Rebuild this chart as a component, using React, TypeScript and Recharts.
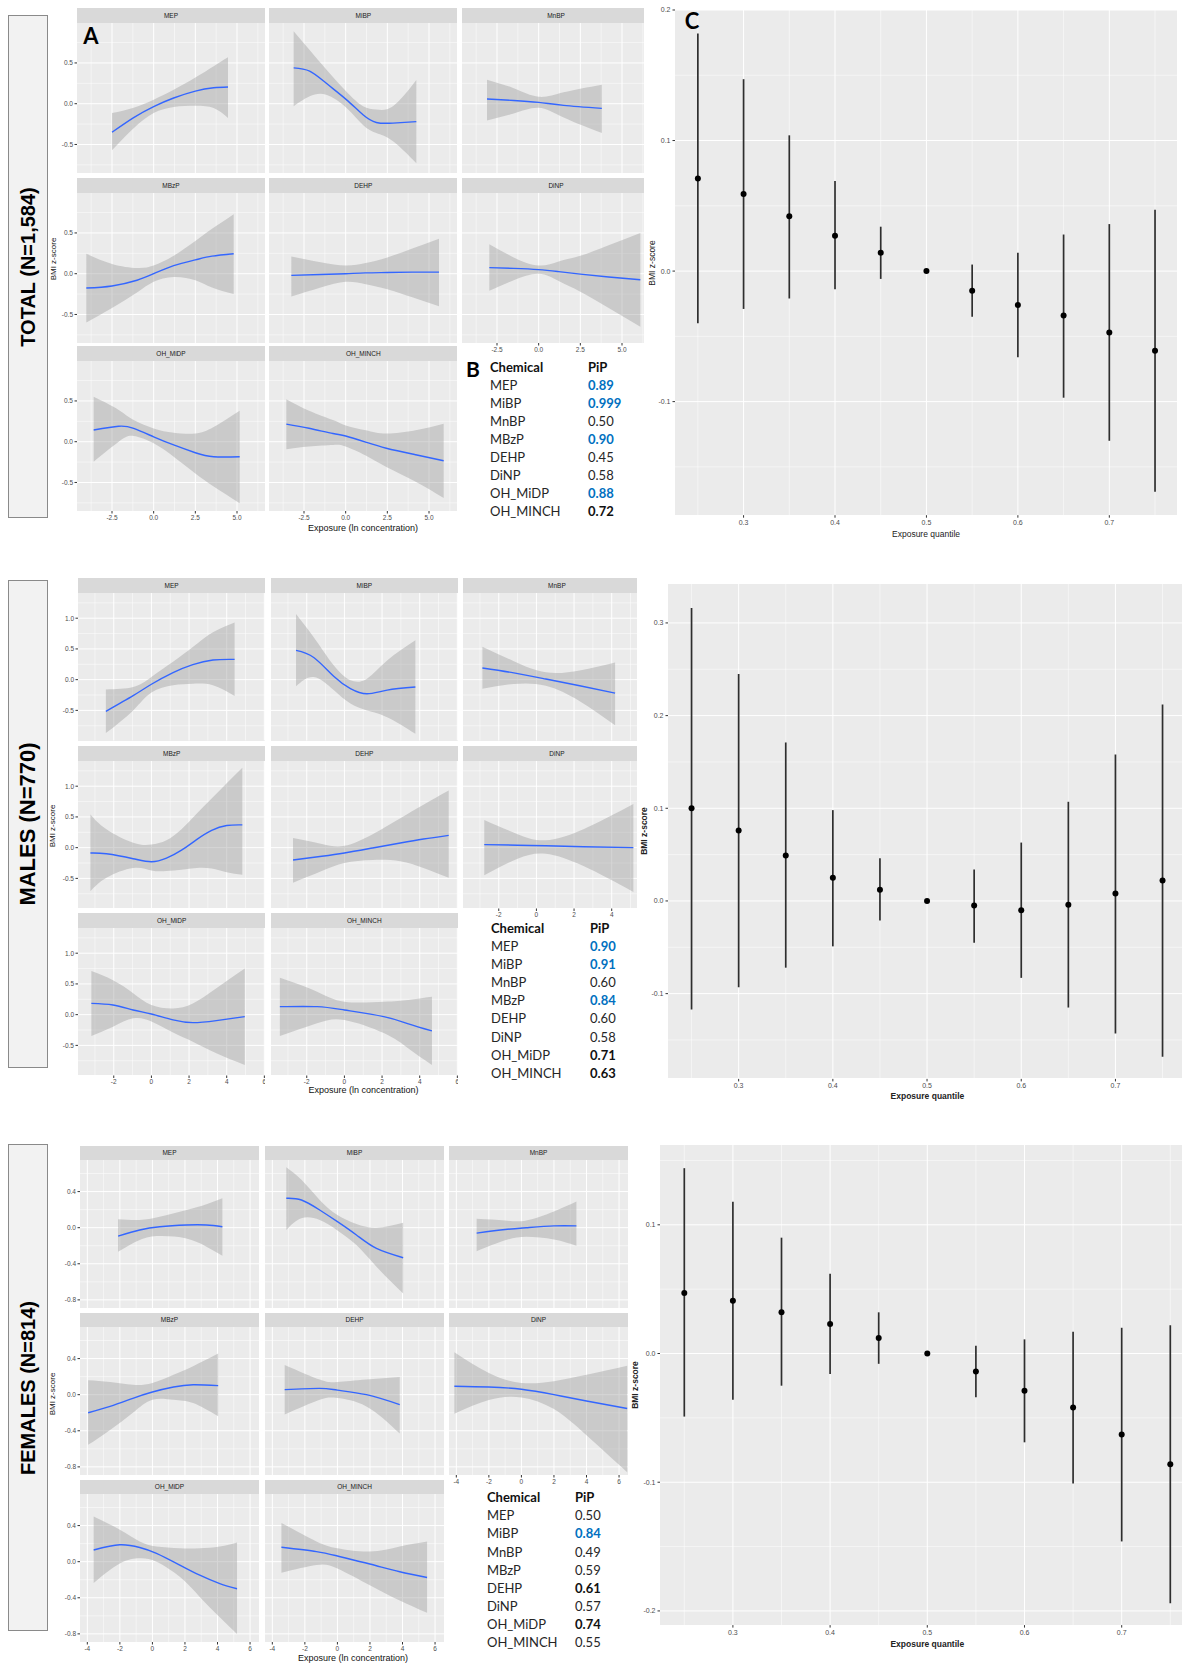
import React from 'react';
import {
  ComposedChart,
  Area,
  Line,
  Scatter,
  ErrorBar,
  XAxis,
  YAxis,
  CartesianGrid,
} from 'recharts';

const SANS = '"Liberation Sans", Arial, sans-serif';
const TABLE_FONT = 'Lato, "Open Sans", sans-serif';

const CHEMICALS = ['MEP', 'MiBP', 'MnBP', 'MBzP', 'DEHP', 'DiNP', 'OH_MiDP', 'OH_MINCH'];

// smooth fits per chemical: [exposure, lower, fit, upper]
const TOTAL_MEP = [[-2.5, -0.57, -0.35, -0.115], [-1.2, -0.3, -0.17, -0.05], [0, -0.115, -0.035, 0.05], [1.2, -0.04, 0.07, 0.17], [2.5, -0.025, 0.155, 0.32], [3.6, -0.053, 0.195, 0.46], [4.46, -0.176, 0.205, 0.57]];
const TOTAL_MIBP = [[-3.12, -0.03, 0.44, 0.89], [-2.16, 0.09, 0.4, 0.66], [-1.16, 0.11, 0.25, 0.42], [0.04, -0.05, 0.05, 0.15], [1.04, -0.26, -0.135, -0.03], [1.84, -0.36, -0.23, -0.07], [2.84, -0.46, -0.238, -0.03], [4.24, -0.73, -0.22, 0.29]];
const TOTAL_MNBP = [[-3.1, -0.205, 0.057, 0.295], [-1.5, -0.12, 0.04, 0.19], [0, -0.05, 0.016, 0.085], [1.5, -0.17, -0.02, 0.14], [3.79, -0.36, -0.057, 0.234]];
const TOTAL_MBZP = [[-4.04, -0.6, -0.175, 0.244], [-2.5, -0.42, -0.15, 0.12], [-1, -0.23, -0.08, 0.07], [0, -0.1, 0, 0.1], [1.2, -0.04, 0.1, 0.22], [2.5, -0.08, 0.17, 0.4], [3.5, -0.17, 0.215, 0.55], [4.8, -0.25, 0.245, 0.73]];
const TOTAL_DEHP = [[-3.26, -0.28, -0.02, 0.21], [-1.5, -0.17, -0.01, 0.14], [0, -0.1, 0, 0.1], [1.2, -0.13, 0.01, 0.13], [2.5, -0.19, 0.015, 0.2], [4, -0.29, 0.02, 0.31], [5.6, -0.4, 0.02, 0.43]];
const TOTAL_DINP = [[-2.96, -0.21, 0.074, 0.36], [-1.5, -0.08, 0.065, 0.2], [0, 0, 0.05, 0.1], [1.2, -0.09, 0.025, 0.15], [2.5, -0.22, -0.005, 0.22], [4.2, -0.42, -0.04, 0.35], [6.1, -0.65, -0.074, 0.5]];
const TOTAL_OHMIDP = [[-3.6, -0.245, 0.143, 0.55], [-2.1, 0, 0.19, 0.39], [-1.2, 0.07, 0.163, 0.265], [0, -0.02, 0.06, 0.163], [1.2, -0.184, -0.04, 0.11], [2.5, -0.39, -0.135, 0.1], [3.6, -0.55, -0.184, 0.18], [5.16, -0.755, -0.184, 0.38]];
const TOTAL_OHMINCH = [[-3.56, -0.094, 0.216, 0.52], [-2.2, -0.06, 0.165, 0.38], [-0.76, -0.04, 0.1, 0.265], [0, -0.06, 0.07, 0.2], [1.2, -0.17, -0.005, 0.14], [2.44, -0.31, -0.08, 0.1], [4.2, -0.49, -0.16, 0.14], [5.88, -0.69, -0.233, 0.22]];

const MALES_MEP = [[-2.42, -0.87, -0.515, -0.16], [-0.97, -0.5, -0.26, -0.12], [0, -0.21, -0.075, 0.043], [1.15, -0.09, 0.115, 0.29], [2.2, -0.065, 0.245, 0.53], [3.27, -0.09, 0.32, 0.77], [4.42, -0.265, 0.33, 0.93]];
const MALES_MIBP = [[-2.57, -0.108, 0.476, 1.07], [-1.63, 0.043, 0.36, 0.69], [-0.57, -0.17, 0.054, 0.233], [0.32, -0.39, -0.146, -0.01], [1.2, -0.5, -0.23, 0.016], [2.27, -0.61, -0.17, 0.31], [3.77, -0.88, -0.12, 0.64]];
const MALES_MNBP = [[-2.87, -0.15, 0.19, 0.535], [-1.2, -0.07, 0.11, 0.3], [0.5, -0.1, 0.01, 0.12], [2.3, -0.35, -0.1, 0.15], [4.18, -0.74, -0.22, 0.28]];
const MALES_MBZP = [[-3.24, -0.71, -0.087, 0.54], [-2.39, -0.49, -0.1, 0.3], [-0.97, -0.33, -0.18, 0.08], [0, -0.37, -0.23, 0.05], [0.8, -0.38, -0.17, 0.12], [1.6, -0.36, -0.04, 0.3], [2.4, -0.33, 0.13, 0.55], [3.2, -0.34, 0.28, 0.8], [4, -0.4, 0.36, 1.05], [4.83, -0.44, 0.37, 1.3]];
const MALES_DEHP = [[-2.73, -0.57, -0.2, 0.157], [-1.2, -0.38, -0.14, 0.06], [0, -0.25, -0.087, 0.03], [1.5, -0.2, -0.005, 0.22], [2.97, -0.22, 0.076, 0.48], [4.2, -0.33, 0.14, 0.7], [5.54, -0.49, 0.2, 0.93]];
const MALES_DINP = [[-2.77, -0.45, 0.05, 0.45], [-1, -0.18, 0.04, 0.22], [0.5, -0.1, 0.03, 0.12], [2.5, -0.3, 0.015, 0.3], [5.15, -0.72, 0, 0.71]];
const MALES_OHMIDP = [[-3.19, -0.346, 0.184, 0.71], [-2.04, -0.195, 0.157, 0.56], [-0.97, -0.06, 0.076, 0.35], [0, -0.11, 0.01, 0.157], [1.15, -0.29, -0.086, 0.1], [2.2, -0.44, -0.13, 0.18], [3.45, -0.63, -0.097, 0.43], [4.96, -0.82, -0.032, 0.75]];
const MALES_OHMINCH = [[-3.43, -0.346, 0.13, 0.6], [-1.45, -0.14, 0.13, 0.373], [0, -0.086, 0.076, 0.21], [2.09, -0.3, -0.032, 0.21], [3.4, -0.55, -0.15, 0.24], [4.65, -0.82, -0.265, 0.29]];

const FEMALES_MEP = [[-2.11, -0.267, -0.093, 0.093], [-0.78, -0.137, -0.026, 0.085], [0.45, -0.093, 0.011, 0.12], [2.09, -0.12, 0.03, 0.196], [3.32, -0.21, 0.03, 0.26], [4.3, -0.31, 0.011, 0.326]];
const FEMALES_MIBP = [[-3.14, -0.026, 0.326, 0.67], [-2.21, 0.104, 0.307, 0.53], [-1.09, 0.085, 0.196, 0.307], [0, -0.03, 0.067, 0.14], [1.17, -0.193, -0.081, 0.04], [2.4, -0.433, -0.23, 0], [4.04, -0.73, -0.333, 0.056]];
const FEMALES_MNBP = [[-2.75, -0.26, -0.06, 0.1], [-1, -0.14, -0.02, 0.08], [0.3, -0.1, 0, 0.08], [2, -0.13, 0.02, 0.18], [3.38, -0.2, 0.02, 0.29]];
const FEMALES_MBZP = [[-3.95, -0.556, -0.2, 0.16], [-2.6, -0.39, -0.13, 0.14], [-1.2, -0.2, -0.04, 0.11], [0, -0.056, 0.03, 0.13], [1.3, -0.056, 0.085, 0.22], [2.5, -0.093, 0.11, 0.315], [4.04, -0.24, 0.1, 0.455]];
const FEMALES_DEHP = [[-3.24, -0.22, 0.056, 0.33], [-1.09, -0.056, 0.07, 0.167], [0, -0.037, 0.05, 0.14], [1.78, -0.13, 0, 0.167], [3.83, -0.43, -0.11, 0.196]];
const FEMALES_DINP = [[-4.12, -0.21, 0.094, 0.47], [-2, -0.06, 0.085, 0.24], [0, -0.03, 0.06, 0.13], [2, -0.16, 0, 0.15], [4, -0.45, -0.07, 0.22], [6.5, -0.86, -0.153, 0.32]];
const FEMALES_OHMIDP = [[-3.61, -0.235, 0.13, 0.5], [-2, -0.019, 0.187, 0.354], [-0.78, 0.037, 0.157, 0.224], [0.25, 0, 0.093, 0.168], [1.68, -0.168, -0.037, 0.149], [2.91, -0.39, -0.15, 0.149], [4.14, -0.616, -0.243, 0.168], [5.2, -0.8, -0.3, 0.213]];
const FEMALES_OHMINCH = [[-3.44, -0.123, 0.16, 0.43], [-1.29, -0.037, 0.112, 0.224], [0, -0.075, 0.063, 0.149], [1.99, -0.26, -0.026, 0.112], [3.83, -0.43, -0.112, 0.168], [5.51, -0.567, -0.175, 0.224]];

// posterior inclusion probabilities
const TOTAL_PIP = ['0.89', '0.999', '0.50', '0.90', '0.45', '0.58', '0.88', '0.72'];
const TOTAL_PIP_STYLE = ['blue', 'blue', 'plain', 'blue', 'plain', 'plain', 'blue', 'bold'];
const MALES_PIP = ['0.90', '0.91', '0.60', '0.84', '0.60', '0.58', '0.71', '0.63'];
const MALES_PIP_STYLE = ['blue', 'blue', 'plain', 'blue', 'plain', 'plain', 'bold', 'bold'];
const FEMALES_PIP = ['0.50', '0.84', '0.49', '0.59', '0.61', '0.57', '0.74', '0.55'];
const FEMALES_PIP_STYLE = ['plain', 'blue', 'plain', 'plain', 'bold', 'plain', 'bold', 'plain'];

// overall mixture effect by quantile
const QUANTILES = [0.25, 0.3, 0.35, 0.4, 0.45, 0.5, 0.55, 0.6, 0.65, 0.7, 0.75];
const TOTAL_EST = [0.071, 0.059, 0.042, 0.027, 0.014, 0, -0.015, -0.026, -0.034, -0.047, -0.061];
const TOTAL_LOW = [-0.04, -0.029, -0.021, -0.014, -0.006, 0, -0.035, -0.066, -0.097, -0.13, -0.169];
const TOTAL_HIGH = [0.182, 0.147, 0.104, 0.069, 0.034, 0, 0.005, 0.014, 0.028, 0.036, 0.047];
const MALES_EST = [0.1, 0.076, 0.049, 0.025, 0.012, 0, -0.005, -0.01, -0.004, 0.008, 0.022];
const MALES_LOW = [-0.117, -0.093, -0.072, -0.049, -0.021, 0, -0.045, -0.083, -0.115, -0.143, -0.168];
const MALES_HIGH = [0.316, 0.245, 0.171, 0.098, 0.046, 0, 0.034, 0.063, 0.107, 0.158, 0.212];
const FEMALES_EST = [0.047, 0.041, 0.032, 0.023, 0.012, 0, -0.014, -0.029, -0.042, -0.063, -0.086];
const FEMALES_LOW = [-0.049, -0.036, -0.025, -0.016, -0.008, 0, -0.034, -0.069, -0.101, -0.146, -0.194];
const FEMALES_HIGH = [0.144, 0.118, 0.09, 0.062, 0.032, 0, 0.006, 0.011, 0.017, 0.02, 0.022];

const Q_MAJOR = [0.3, 0.4, 0.5, 0.6, 0.7];
const Q_MINOR = [0.25, 0.35, 0.45, 0.55, 0.65, 0.75];

const fmt1 = (v: number) => v.toFixed(1);
const fmt0 = (v: number) => String(v);

function Facet(props: any) {
  const { left, top, w, stripH, plotH, name, rows, xDomain, yDomain, xMajor, xMinor, yMajor, yMinor, showX, showY, fmtX, fmtY } = props;
  const data = rows.map((r: number[]) => ({ x: r[0], band: [r[1], r[3]], fit: r[2] }));
  const yw = showY ? 24 : 0;
  const xh = showX ? 14 : 0;
  const tickStyle = { fontSize: 6.5, fill: '#4D4D4D', fontFamily: SANS };
  return (
    <>
      <div style={{ position: 'absolute', left, top, width: w, height: stripH, background: '#D9D9D9', color: '#1A1A1A', fontSize: 6.5, lineHeight: `${stripH}px`, textAlign: 'center', fontFamily: SANS }}>
        {name}
      </div>
      <div style={{ position: 'absolute', left, top: top + stripH, width: w, height: plotH, background: '#EBEBEB' }} />
      <div style={{ position: 'absolute', left: left - yw, top: top + stripH }}>
        <ComposedChart width={w + yw} height={plotH + xh} data={data} margin={{ top: 0, right: 0, bottom: 0, left: 0 }}>
          <CartesianGrid horizontalValues={yMinor} verticalValues={xMinor} stroke="#FFFFFF" strokeWidth={0.5} />
          <CartesianGrid horizontalValues={yMajor} verticalValues={xMajor} stroke="#FFFFFF" strokeWidth={1} />
          <XAxis type="number" dataKey="x" domain={xDomain} allowDataOverflow ticks={xMajor} interval={0} hide={!showX} height={xh} tickFormatter={fmtX} tick={tickStyle} tickLine={{ stroke: '#333333' }} tickSize={2.5} tickMargin={1.5} axisLine={false} />
          <YAxis type="number" domain={yDomain} allowDataOverflow ticks={yMajor} interval={0} hide={!showY} width={yw} tickFormatter={fmtY} tick={tickStyle} tickLine={{ stroke: '#333333' }} tickSize={2.5} tickMargin={1.5} axisLine={false} />
          <Area type="natural" dataKey="band" stroke="none" fill="#999999" fillOpacity={0.4} isAnimationActive={false} />
          <Line type="natural" dataKey="fit" stroke="#3366FF" strokeWidth={1.4} dot={false} isAnimationActive={false} />
        </ComposedChart>
      </div>
    </>
  );
}

function FacetGrid(props: any) {
  const { cols, strips, w, stripH, plotH, panels, xDomain, xMajor, xMinor, yDomain, yMajor, yMinor, fmtX, fmtY, xTitle, yTitle } = props;
  return (
    <>
      {panels.map((rows: number[][], i: number) => (
        <Facet
          key={CHEMICALS[i]}
          left={cols[i % 3]}
          top={strips[Math.floor(i / 3)]}
          w={w}
          stripH={stripH}
          plotH={plotH}
          name={CHEMICALS[i]}
          rows={rows}
          xDomain={xDomain}
          yDomain={yDomain}
          xMajor={xMajor}
          xMinor={xMinor}
          yMajor={yMajor}
          yMinor={yMinor}
          showX={i >= 5}
          showY={i % 3 === 0}
          fmtX={fmtX}
          fmtY={fmtY}
        />
      ))}
      <div style={{ position: 'absolute', left: xTitle[0], top: xTitle[1], transform: 'translate(-50%,-50%)', fontSize: 9, fontFamily: SANS, color: '#111', whiteSpace: 'nowrap' }}>
        Exposure (ln concentration)
      </div>
      <div style={{ position: 'absolute', left: yTitle[0], top: yTitle[1], transform: 'translate(-50%,-50%) rotate(-90deg)', fontSize: 8, fontFamily: SANS, color: '#111', whiteSpace: 'nowrap' }}>
        BMI z-score
      </div>
    </>
  );
}

const PointShape = (p: any) => <circle cx={p.cx} cy={p.cy} r={3} fill="#000000" />;

function EffectPanel(props: any) {
  const { cover, plotLeft, plotTop, plotW, plotH, est, low, high, yDomain, yMajor, yMinor, yTitleX, boldTitle } = props;
  const data = QUANTILES.map((q, i) => ({ q, est: est[i], err: [est[i] - low[i], high[i] - est[i]] }));
  const yw = 20;
  const xh = 14;
  const mt = 6;
  const tickStyle = { fontSize: 7, fill: '#4D4D4D', fontFamily: SANS };
  return (
    <>
      <div style={{ position: 'absolute', left: cover[0], top: cover[1], width: 1182 - cover[0], height: cover[2], background: '#FFFFFF' }} />
      <div style={{ position: 'absolute', left: plotLeft, top: plotTop, width: plotW, height: plotH, background: '#EBEBEB' }} />
      <div style={{ position: 'absolute', left: plotLeft - yw, top: plotTop - mt }}>
        <ComposedChart width={plotW + yw} height={plotH + xh + mt} margin={{ top: mt, right: 0, bottom: 0, left: 0 }}>
          <CartesianGrid horizontalValues={yMinor} verticalValues={Q_MINOR} stroke="#FFFFFF" strokeWidth={0.5} />
          <CartesianGrid horizontalValues={yMajor} verticalValues={Q_MAJOR} stroke="#FFFFFF" strokeWidth={1} />
          <XAxis type="number" dataKey="q" domain={[0.225, 0.775]} allowDataOverflow ticks={Q_MAJOR} interval={0} height={xh} tickFormatter={fmt1} tick={tickStyle} tickLine={{ stroke: '#333333' }} tickSize={2.5} tickMargin={2} axisLine={false} />
          <YAxis type="number" domain={yDomain} allowDataOverflow ticks={yMajor} interval={0} width={yw} tickFormatter={fmt1} tick={tickStyle} tickLine={{ stroke: '#333333' }} tickSize={2.5} tickMargin={2} axisLine={false} />
          <Scatter data={data} dataKey="est" shape={PointShape} isAnimationActive={false}>
            <ErrorBar dataKey="err" direction="y" width={0} stroke="#2E2E2E" strokeWidth={1.7} />
          </Scatter>
        </ComposedChart>
      </div>
      <div style={{ position: 'absolute', left: plotLeft + (0.5 - 0.225) / 0.55 * plotW, top: plotTop + plotH + 18, transform: 'translate(-50%,-50%)', fontSize: 8.5, fontWeight: boldTitle ? 700 : 400, fontFamily: SANS, color: '#222', whiteSpace: 'nowrap' }}>
        Exposure quantile
      </div>
      <div style={{ position: 'absolute', left: yTitleX, top: plotTop + plotH / 2, transform: 'translate(-50%,-50%) rotate(-90deg)', fontSize: 8.5, fontWeight: boldTitle ? 700 : 400, fontFamily: SANS, color: '#222', whiteSpace: 'nowrap' }}>
        BMI z-score
      </div>
    </>
  );
}

const PIP_COLORS: Record<string, [string, number]> = {
  blue: ['#0070C0', 700],
  bold: ['#111111', 700],
  plain: ['#262626', 400],
};

function PipTable(props: any) {
  const { chemX, pipX, headY, firstY, step, pips, styles } = props;
  const cell = (x: number, y: number, text: string, color: string, weight: number, key: string) => (
    <div key={key} style={{ position: 'absolute', left: x, top: y - 8, lineHeight: '16px', fontSize: 13, fontFamily: TABLE_FONT, color, fontWeight: weight, whiteSpace: 'nowrap' }}>
      {text}
    </div>
  );
  return (
    <>
      {cell(chemX, headY, 'Chemical', '#111111', 700, 'hc')}
      {cell(pipX, headY, 'PiP', '#111111', 700, 'hp')}
      {CHEMICALS.map((c, i) => cell(chemX, firstY + i * step, c, '#262626', 400, 'c' + i))}
      {pips.map((p: string, i: number) => cell(pipX, firstY + i * step, p, PIP_COLORS[styles[i]][0], PIP_COLORS[styles[i]][1], 'p' + i))}
    </>
  );
}

function RowLabel({ top, bottom, text, size }: any) {
  return (
    <div style={{ position: 'absolute', left: 8, top, width: 40, height: bottom - top, boxSizing: 'border-box', border: '1px solid #8A8A8A', background: '#F2F2F2' }}>
      <div style={{ position: 'absolute', left: '50%', top: '50%', transform: 'translate(-50%,-50%) rotate(-90deg)', whiteSpace: 'nowrap', fontWeight: 700, fontSize: size, fontFamily: SANS, color: '#000' }}>
        {text}
      </div>
    </div>
  );
}

const Letter = ({ x, y, text, size }: any) => (
  <div style={{ position: 'absolute', left: x, top: y, transform: 'translate(-50%,-50%)', fontSize: size, fontWeight: 700, fontFamily: TABLE_FONT, color: '#000', lineHeight: 1 }}>
    {text}
  </div>
);

export default function App() {
  return (
    <div style={{ position: 'absolute', left: 0, top: 0, width: 1182, height: 1667, overflow: 'hidden', background: '#FFFFFF' }}>
      <RowLabel top={15} bottom={518} text="TOTAL (N=1,584)" size={20} />
      <RowLabel top={580} bottom={1068} text="MALES (N=770)" size={22} />
      <RowLabel top={1144} bottom={1631} text="FEMALES (N=814)" size={20} />

      <FacetGrid
        cols={[77, 269.3, 462]}
        strips={[8, 177.7, 345.7]}
        w={188}
        stripH={15}
        plotH={150}
        panels={[TOTAL_MEP, TOTAL_MIBP, TOTAL_MNBP, TOTAL_MBZP, TOTAL_DEHP, TOTAL_DINP, TOTAL_OHMIDP, TOTAL_OHMINCH]}
        xDomain={[-4.6, 6.68]}
        xMajor={[-2.5, 0, 2.5, 5]}
        xMinor={[-3.75, -1.25, 1.25, 3.75, 6.25]}
        yDomain={[-0.85, 0.99]}
        yMajor={[-0.5, 0, 0.5]}
        yMinor={[-0.75, -0.25, 0.25, 0.75]}
        fmtX={fmt1}
        fmtY={fmt1}
        xTitle={[363, 528]}
        yTitle={[53, 259]}
      />
      <FacetGrid
        cols={[78, 270.7, 463.3]}
        strips={[578, 745.5, 912.7]}
        w={187.3}
        stripH={15}
        plotH={147.5}
        panels={[MALES_MEP, MALES_MIBP, MALES_MNBP, MALES_MBZP, MALES_DEHP, MALES_DINP, MALES_OHMIDP, MALES_OHMINCH]}
        xDomain={[-3.9, 6.05]}
        xMajor={[-2, 0, 2, 4, 6]}
        xMinor={[-3, -1, 1, 3, 5]}
        yDomain={[-0.99, 1.41]}
        yMajor={[-0.5, 0, 0.5, 1]}
        yMinor={[-0.75, -0.25, 0.25, 0.75, 1.25]}
        fmtX={fmt0}
        fmtY={fmt1}
        xTitle={[363.6, 1090]}
        yTitle={[52, 826]}
      />
      <FacetGrid
        cols={[80, 265, 449]}
        strips={[1146, 1313.3, 1480]}
        w={179}
        stripH={14}
        plotH={148}
        panels={[FEMALES_MEP, FEMALES_MIBP, FEMALES_MNBP, FEMALES_MBZP, FEMALES_DEHP, FEMALES_DINP, FEMALES_OHMIDP, FEMALES_OHMINCH]}
        xDomain={[-4.45, 6.55]}
        xMajor={[-4, -2, 0, 2, 4, 6]}
        xMinor={[-3, -1, 1, 3, 5]}
        yDomain={[-0.89, 0.75]}
        yMajor={[-0.8, -0.4, 0, 0.4]}
        yMinor={[-0.6, -0.2, 0.2, 0.6]}
        fmtX={fmt0}
        fmtY={fmt1}
        xTitle={[353, 1658]}
        yTitle={[52, 1394]}
      />

      <EffectPanel
        cover={[644, 0, 545]}
        plotLeft={674.6}
        plotTop={10.3}
        plotW={502.9}
        plotH={505.2}
        est={TOTAL_EST}
        low={TOTAL_LOW}
        high={TOTAL_HIGH}
        yDomain={[-0.187, 0.2]}
        yMajor={[-0.1, 0, 0.1, 0.2]}
        yMinor={[-0.15, -0.05, 0.05, 0.15]}
        yTitleX={652}
        boldTitle={false}
      />
      <EffectPanel
        cover={[637, 560, 550]}
        plotLeft={668.4}
        plotTop={583.5}
        plotW={518.1}
        plotH={494.9}
        est={MALES_EST}
        low={MALES_LOW}
        high={MALES_HIGH}
        yDomain={[-0.192, 0.342]}
        yMajor={[-0.1, 0, 0.1, 0.2, 0.3]}
        yMinor={[-0.15, -0.05, 0.05, 0.15, 0.25]}
        yTitleX={644}
        boldTitle={true}
      />
      <EffectPanel
        cover={[637, 1125, 542]}
        plotLeft={660}
        plotTop={1145.4}
        plotW={534.6}
        plotH={480.1}
        est={FEMALES_EST}
        low={FEMALES_LOW}
        high={FEMALES_HIGH}
        yDomain={[-0.211, 0.162]}
        yMajor={[-0.2, -0.1, 0, 0.1]}
        yMinor={[-0.15, -0.05, 0.05, 0.15]}
        yTitleX={635}
        boldTitle={true}
      />

      <PipTable chemX={490} pipX={588} headY={366.7} firstY={385} step={18.05} pips={TOTAL_PIP} styles={TOTAL_PIP_STYLE} />
      <PipTable chemX={491} pipX={590} headY={928} firstY={945.5} step={18.2} pips={MALES_PIP} styles={MALES_PIP_STYLE} />
      <PipTable chemX={487} pipX={575} headY={1497.3} firstY={1515.3} step={18.1} pips={FEMALES_PIP} styles={FEMALES_PIP_STYLE} />

      <Letter x={91} y={36} text="A" size={22} />
      <Letter x={473} y={368} text="B" size={21} />
      <Letter x={692} y={21} text="C" size={22} />
    </div>
  );
}
